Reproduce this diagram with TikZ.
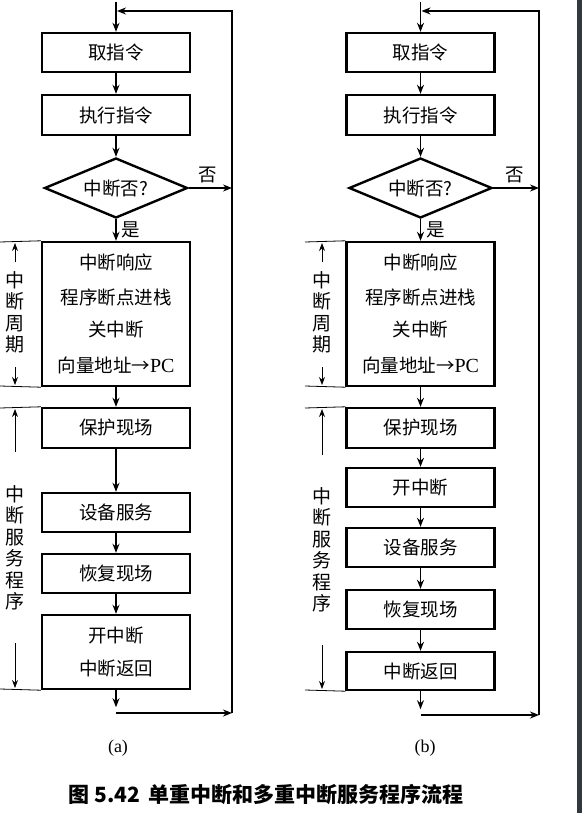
\documentclass[tikz,border=0pt]{standalone}
\usepackage{fontspec}
\setmainfont{Liberation Serif}
\newfontfamily\cjk{Noto Sans CJK SC}
\usetikzlibrary{shapes.geometric,arrows.meta}
\definecolor{band}{HTML}{33383C}
\newcommand{\pcx}{{\rmfamily\fontsize{20}{20}\selectfont PC}}
\begin{document}
\begin{tikzpicture}[x=1pt,y=-1pt,
  box/.style={draw,line width=2.4pt,inner sep=0pt,minimum width=148pt,font=\cjk\fontsize{18.5}{20}\selectfont},
  dec/.style={draw,diamond,line width=2.4pt,inner sep=0pt,minimum width=143pt,minimum height=60pt,aspect=2.4,font=\cjk\fontsize{18.5}{20}\selectfont},
  arr/.style={line width=1.7pt,-{Stealth[length=9pt,width=7pt]}},
  brk/.style={line width=0.8pt},
  barr/.style={line width=0.9pt,-{Stealth[length=8pt,width=6pt]}},
  lbl/.style={font=\cjk\fontsize{18.5}{20}\selectfont,inner sep=0pt},
  vlbl/.style={font=\cjk\fontsize{19}{21.5}\selectfont,inner sep=0pt,align=center},
  sublbl/.style={font=\fontsize{18}{20}\selectfont,inner sep=0pt}]
\useasboundingbox (0,0) rectangle (582,813);
\fill[white] (0,0) rectangle (582,813);
\fill[band] (577,0) rectangle (582,813);

% ---------------- (a) ----------------
\begin{scope}[name prefix=a-]
\node[box,minimum height=39pt] (n1) at (116,52.5) {取指令};
\node[box,minimum height=40pt] (n2) at (116,115) {执行指令};
\node[dec] (d) at (116,188) {中断否?};
\node[box,minimum height=144pt] (n3) at (116,314) {};
\node[lbl] (t31) at (116,262) {中断响应};
\node[lbl] (t32) at (116,297) {程序断点进栈};
\node[lbl] (t33) at (116,329) {关中断};
\node[lbl] (t34) at (116,365) {向量地址→\pcx};
\node[box,minimum height=40pt] (n4) at (116,428) {保护现场};
\node[box,minimum height=39pt] (n5) at (116,512.5) {设备服务};
\node[box,minimum height=39pt] (n6) at (116,573.5) {恢复现场};
\node[box,minimum height=74pt] (n7) at (116,652) {};
\node[lbl] (t71) at (116,635) {开中断};
\node[lbl] (t72) at (116,668) {中断返回};
\node[lbl] (no) at (208,175) {否};
\node[lbl] (yes) at (131,230) {是};
\coordinate (top) at (116,2);
\coordinate (tl) at (117,11);
\coordinate (tr) at (232,11);
\coordinate (mr) at (232,188);
\coordinate (bl) at (116,713);
\coordinate (br) at (232,713);
\draw[arr] (top) -- (n1.north);
\draw[arr] (n1) -- (n2);
\draw[arr] (n2) -- (d);
\draw[arr] (d) -- (n3);
\draw[arr] (n3) -- (n4);
\draw[arr] (n4) -- (n5);
\draw[arr] (n5) -- (n6);
\draw[arr] (n6) -- (n7);
\draw[arr] (n7.south) -- ++(0,17);
\draw[arr] (d.east) -- (mr);
\draw[arr] (bl) -- (br);
\draw[arr] (br) -- (tr) -- (tl);
% brackets
\coordinate (c1) at (0,242);
\coordinate (c2) at (0,386);
\coordinate (c3) at (0,408);
\coordinate (c4) at (0,689);
\draw[brk] (c1) -- (n3.north west);
\draw[brk] (c2) -- (n3.south west);
\draw[brk] (c3) -- (n4.north west);
\draw[brk] (c4) -- (n7.south west);
\draw[barr] (15,262) -- (15,243);
\draw[barr] (15,367) -- (15,385);
\draw[barr] (15,452) -- (15,409);
\draw[barr] (15,643) -- (15,688);
\node[vlbl] (v1) at (15,312.5) {中\\断\\周\\期};
\node[vlbl] (v2) at (15,548) {中\\断\\服\\务\\程\\序};
\node[sublbl] (ca) at (118,748) {(a)};
\end{scope}

% ---------------- (b) ----------------
\begin{scope}[name prefix=b-]
\node[box,minimum height=39pt] (n1) at (420.5,52.5) {取指令};
\node[box,minimum height=40pt] (n2) at (420.5,115) {执行指令};
\node[dec] (d) at (420.5,188) {中断否?};
\node[box,minimum height=144pt] (n3) at (420.5,314) {};
\node[lbl] (t31) at (420.5,262) {中断响应};
\node[lbl] (t32) at (420.5,297) {程序断点进栈};
\node[lbl] (t33) at (420.5,329) {关中断};
\node[lbl] (t34) at (420.5,365) {向量地址→\pcx};
\node[box,minimum height=40pt] (n4) at (420.5,428) {保护现场};
\node[box,minimum height=39pt] (n5) at (420.5,487.5) {开中断};
\node[box,minimum height=39pt] (n6) at (420.5,547.5) {设备服务};
\node[box,minimum height=39pt] (n7) at (420.5,609.5) {恢复现场};
\node[box,minimum height=38pt] (n8) at (420.5,671) {中断返回};
\node[lbl] (no) at (515,175) {否};
\node[lbl] (yes) at (436,230) {是};
\coordinate (top) at (420.5,2);
\coordinate (tl) at (421.5,11);
\coordinate (tr) at (539,11);
\coordinate (mr) at (539,188);
\coordinate (bl) at (420.5,715);
\coordinate (br) at (539,715);
\draw[arr] (top) -- (n1.north);
\draw[arr] (n1) -- (n2);
\draw[arr] (n2) -- (d);
\draw[arr] (d) -- (n3);
\draw[arr] (n3) -- (n4);
\draw[arr] (n4) -- (n5);
\draw[arr] (n5) -- (n6);
\draw[arr] (n6) -- (n7);
\draw[arr] (n7) -- (n8);
\draw[arr] (n8.south) -- ++(0,18);
\draw[arr] (d.east) -- (mr);
\draw[arr] (bl) -- (br);
\draw[arr] (br) -- (tr) -- (tl);
% brackets
\coordinate (c1) at (305,242);
\coordinate (c2) at (305,386);
\coordinate (c3) at (305,408);
\coordinate (c4) at (305,690);
\draw[brk] (c1) -- (n3.north west);
\draw[brk] (c2) -- (n3.south west);
\draw[brk] (c3) -- (n4.north west);
\draw[brk] (c4) -- (n8.south west);
\draw[barr] (322,262) -- (322,243);
\draw[barr] (322,367) -- (322,385);
\draw[barr] (322,455) -- (322,409);
\draw[barr] (322,645) -- (322,689);
\node[vlbl] (v1) at (322,312.5) {中\\断\\周\\期};
\node[vlbl] (v2) at (322,550) {中\\断\\服\\务\\程\\序};
\node[sublbl] (cb) at (425,748) {(b)};
\end{scope}

\node[font=\cjk\bfseries\fontsize{21}{23}\selectfont,inner sep=0pt] (title) at (266,795) {图 5.42\, 单重中断和多重中断服务程序流程};
\end{tikzpicture}
\end{document}
